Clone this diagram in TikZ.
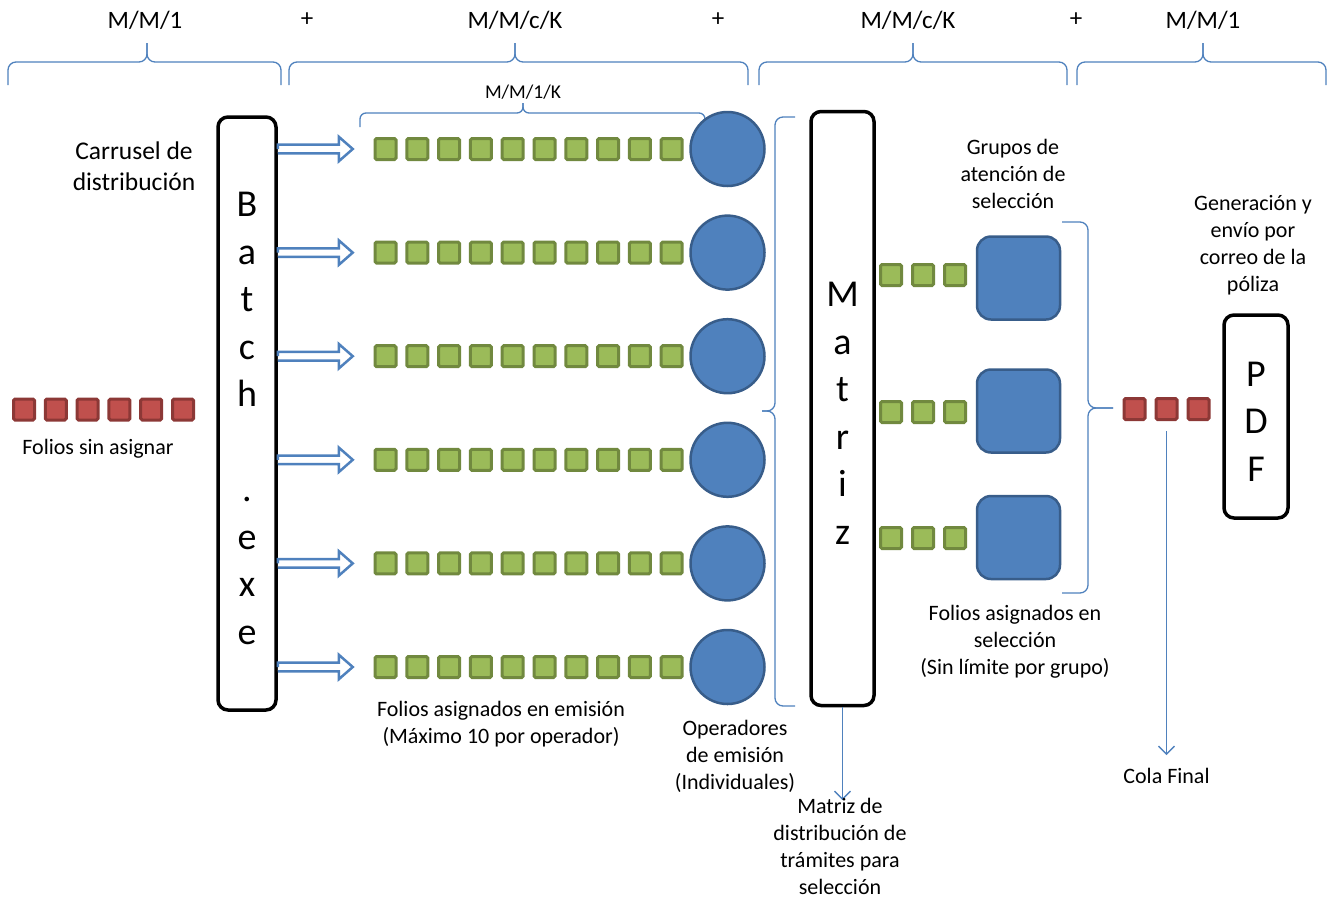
\documentclass[tikz,border=0pt]{standalone}
\usepackage{fontspec}
\setmainfont{Carlito}
\usepackage{tikz}
\usetikzlibrary{arrows.meta}
\definecolor{accblue}{HTML}{4F81BD}
\definecolor{accbluedk}{HTML}{385D8A}
\definecolor{foliogreen}{HTML}{9BBB59}
\definecolor{foliogreendk}{HTML}{71893F}
\definecolor{foliored}{HTML}{C0504D}
\definecolor{folioreddk}{HTML}{8C3836}
\tikzstyle{server} = [rectangle, rounded corners=10pt, draw=black, line width=3.5pt, fill=white, align=center, inner sep=0pt, font=\fontsize{38}{47.5}\selectfont]
\tikzstyle{folio} = [rectangle, rounded corners=1.5pt, draw=foliogreendk, fill=foliogreen, line width=3pt, minimum size=21pt, inner sep=0pt]
\tikzstyle{pending} = [folio, draw=folioreddk, fill=foliored]
\tikzstyle{operator} = [circle, draw=accbluedk, fill=accblue, line width=2.5pt, minimum size=74pt, inner sep=0pt]
\tikzstyle{group} = [rectangle, rounded corners=14pt, draw=accbluedk, fill=accblue, line width=2.5pt, minimum size=83pt, inner sep=0pt]
\tikzstyle{note} = [align=center, inner sep=0pt, font=\fontsize{22}{27}\selectfont]
\tikzstyle{model} = [inner sep=0pt, font=\fontsize{25}{30}\selectfont]
\tikzstyle{bline} = [draw=accblue, line width=1.3pt, rounded corners=8pt]
\tikzstyle{arrow} = [draw=accblue, line width=1.3pt, -{Straight Barb[length=8pt,width=16pt]}]
\tikzstyle{feed} = [draw=accblue, line width=2.5pt, fill=white]
\newcommand{\toprow}{\rule{0pt}{34pt}}

\begin{document}
\begin{tikzpicture}[x=1pt, y=-1pt]
\useasboundingbox (0,0) rectangle (1331,898);

% queueing models on top
\node[model] (m1) at (145,20) {M/M/1};
\node[model] (p1) at (307,20) {+};
\node[model] (m2) at (515,20) {M/M/c/K};
\node[model] (p2) at (718,20) {+};
\node[model] (m3) at (908,20) {M/M/c/K};
\node[model] (p3) at (1076,20) {+};
\node[model] (m4) at (1203,20) {M/M/1};
\foreach \a/\m/\b in {8/147/281, 289/515/748, 759/913/1067, 1077/1203/1326} {
  \draw[bline] (\a,85) |- (\m,62) -- (\m,43);
  \draw[bline] (\b,85) |- (\m,62) -- (\m,43);
}
\node[model, font=\fontsize{19.5}{24}\selectfont] (mk) at (523,92) {M/M/1/K};
\draw[bline, rounded corners=6pt] (360,127) |- (523,113) -- (523,103);
\draw[bline, rounded corners=6pt] (705,125) |- (523,113) -- (523,103);

% unassigned folios
\foreach \k in {1,...,6}
  \node[pending] (u\k) at ({24+31.8*(\k-1)},409.5) {};
\node[note, font=\fontsize{25.5}{31}\selectfont] (carrusel) at (134,166) {Carrusel de\\distribución};
\node[note] (sinasig) at (98,449) {Folios sin asignar};

\node[server, minimum width=58pt, minimum height=593pt] (batch) at (247,413.5) {\toprow B\\a\\t\\c\\h\\[47.5pt].\\e\\x\\e};

% emission queues and operators
\foreach \r in {1,...,6} {
  \foreach \k in {1,...,10}
    \node[folio] (e\r-\k) at ({385.5+31.8*(\k-1)},{149+103.6*(\r-1)}) {};
  \node[operator] (op\r) at (727.5,{149+103.6*(\r-1)}) {};
  \filldraw[feed] (batch.east |- e\r-1) -- ++(0,-4.3) -- ++(61,0) -- ++(0,-8) -- ++(14,12.3) -- ++(-14,12.3) -- ++(0,-8) -- ++(-61,0);
}
\node[note] (emision) at (501,724) {Folios asignados en emisión\\(Máximo 10 por operador)};
\node[note] (operadores) at (735,756) {Operadores\\de emisión\\(Individuales)};

% distribution matrix
\draw[bline] (795,117) -| (775,411) -- (762,411);
\draw[bline] (795,706) -| (775,411) -- (762,411);
\node[server, minimum width=63pt, minimum height=594pt] (matriz) at (842.5,408.5) {\toprow M\\a\\t\\r\\i\\z};
\coordinate (mdest) at (842.5,800);
\draw[arrow] (matriz) -- (mdest);
\node[note] (matrizdesc) at (840,846.5) {Matriz de\\distribución de\\trámites para\\selección};

% selection groups
\foreach \g/\y/\yg in {1/275/278, 2/412/411, 3/538/537.5} {
  \foreach \k in {1,2,3}
    \node[folio] (s\g-\k) at ({891+32*(\k-1)},\y) {};
  \node[group] (g\g) at (1018.5,\yg) {};
}
\node[note] (grupos) at (1013,174) {Grupos de\\atención de\\selección};
\node[note] (seleccion) at (1015,642) {Folios asignados en\\selección\\(Sin límite por grupo)};
\draw[bline] (1062,222) -| (1088,408) -- (1113,408);
\draw[bline] (1062,593) -| (1088,408) -- (1113,408);

% final queue and PDF
\foreach \k in {1,2,3}
  \node[pending] (f\k) at ({1134.5+32*(\k-1)},409) {};
\coordinate (cdest) at (1166.5,755);
\draw[arrow, shorten <=10pt] (f2) -- (cdest);
\node[note] (cola) at (1166.5,776) {Cola Final};
\node[server, minimum width=64pt, minimum height=203pt] (pdf) at (1256,416.5) {\toprow P\\D\\F};
\node[note] (generacion) at (1253,245) {Generación y\\envío por\\correo de la\\póliza};
\end{tikzpicture}
\end{document}
